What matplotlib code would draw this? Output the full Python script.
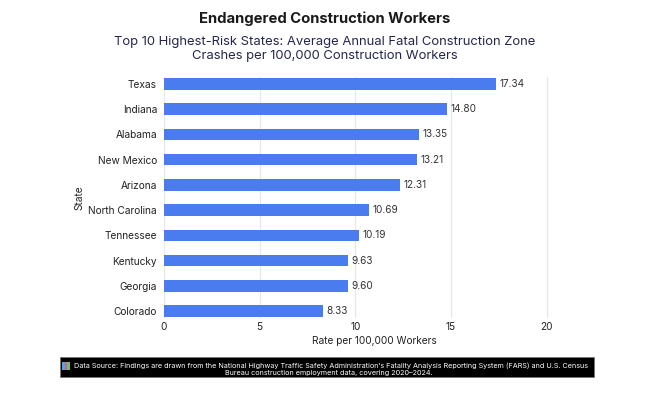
import matplotlib
matplotlib.use("Agg")
import matplotlib.pyplot as plt
from matplotlib.patches import Rectangle

states = ["Texas", "Indiana", "Alabama", "New Mexico", "Arizona",
          "North Carolina", "Tennessee", "Kentucky", "Georgia", "Colorado"]
rates = [17.34, 14.80, 13.35, 13.21, 12.31, 10.69, 10.19, 9.63, 9.60, 8.33]
xticks = [0, 5, 10, 15, 20]

title = "Endangered Construction Workers"
subtitle = ("Top 10 Highest-Risk States: Average Annual Fatal Construction Zone\n"
            "Crashes per 100,000 Construction Workers")
footer1 = ("Data Source: Findings are drawn from the National Highway Traffic Safety "
           "Administration\u2019s Fatality Analysis Reporting System (FARS) and U.S. Census")
footer2 = "Bureau construction employment data, covering 2020\u20132024."

plt.rcParams['font.family'] = ['Inter', 'DejaVu Sans']

fig = plt.figure(figsize=(6.5, 4.0), dpi=100)
fig.patch.set_facecolor("white")
ax = fig.add_axes([164/650, 1-318/400, 421/650, 241/400])

bar_color = "#4a7bef"
ypos = list(range(len(states)))
ax.barh(ypos, rates, height=0.46, color=bar_color, zorder=3)
for y, v in zip(ypos, rates):
    ax.text(v + 0.18, y, f"{v:.2f}", va="center", ha="left", fontsize=7.2, color="#333333")

ax.set_xlim(0, 22)
ax.set_ylim(9.27, -0.27)
ax.set_yticks(ypos)
ax.set_yticklabels(states, fontsize=7.3, color="#222222")
ax.set_xticks(xticks)
ax.set_xticklabels([str(t) for t in xticks], fontsize=7.3, color="#222222")
ax.tick_params(axis="both", length=0)
ax.tick_params(axis="y", pad=5)
ax.tick_params(axis="x", pad=3)
for s in ax.spines.values():
    s.set_visible(False)
ax.grid(axis="x", color="#e6e6e6", linewidth=0.8, zorder=0)
ax.set_axisbelow(True)
ax.set_xlabel("Rate per 100,000 Workers", fontsize=7.3, color="#222222", labelpad=3)
ax.set_ylabel("State", fontsize=7.3, color="#222222", labelpad=3)

fig.text(0.5, 1-19/400, title, ha="center", va="center", fontsize=10.7,
         fontweight="bold", color="#1a1a1a")
fig.text(0.5, 1-49/400, subtitle, ha="center", va="center", fontsize=9.4,
         color="#25264f", linespacing=1.15)

# footer box
fig.patches.append(Rectangle((60/650, 1-377/400), 534/650, 20/400,
                             transform=fig.transFigure, facecolor="black",
                             edgecolor="#777777", linewidth=0.6, zorder=1))
# small chart icon
icon_cols = ["#4fa3e0", "#e05a8a", "#6cc26c"]
for i, c in enumerate(icon_cols):
    fig.patches.append(Rectangle(((62 + i*2.7)/650, 1-370/400), 2.7/650, 8/400,
                                 transform=fig.transFigure, facecolor=c,
                                 edgecolor="none", zorder=2))
fig.text(74/650, 1-366/400, footer1, ha="left", va="center", fontsize=5.23,
         color="white", zorder=3)
fig.text(329/650, 1-373.5/400, footer2, ha="center", va="center", fontsize=5.23,
         color="white", zorder=3)

fig.savefig("out.png", dpi=100, facecolor="white")
